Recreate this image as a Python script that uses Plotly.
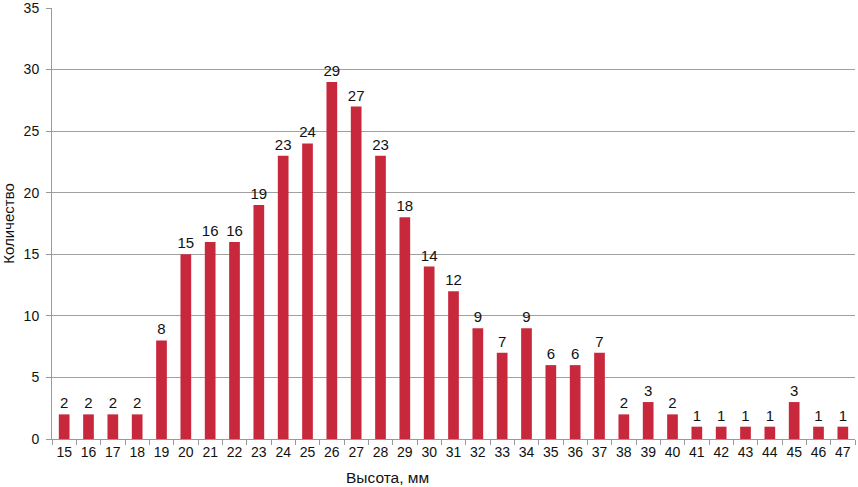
import plotly.graph_objects as go

heights = [str(h) for h in range(15, 48)]
counts = [2, 2, 2, 2, 8, 15, 16, 16, 19, 23, 24, 29, 27, 23, 18, 14, 12, 9, 7, 9, 6, 6, 7,
          2, 3, 2, 1, 1, 1, 1, 3, 1, 1]
y_ticks = [0, 5, 10, 15, 20, 25, 30, 35]

FONT = "Liberation Sans, Arial"

fig = go.Figure(go.Bar(
    x=heights, y=counts,
    marker=dict(color="#C8283C", line=dict(width=0)),
    text=[str(c) for c in counts], textposition="outside",
    constraintext="none",
    textfont=dict(family=FONT, size=15, color="#111"),
    cliponaxis=False,
))

fig.update_layout(
    width=858, height=487,
    margin=dict(l=52, r=3, t=8, b=48, autoexpand=False),
    paper_bgcolor="white", plot_bgcolor="white",
    bargap=0.56,
    showlegend=False,
    font=dict(family=FONT, size=14, color="#111"),
    xaxis=dict(
        type="category", automargin=False,
        showline=True, linecolor="#999", linewidth=1,
        ticks="outside", tickson="boundaries", ticklen=5, tickcolor="#999",
        tickangle=0, ticklabeloverflow="allow",
        showgrid=False,
        tickfont=dict(size=14),
    ),
    yaxis=dict(
        range=[0, 35], tickvals=y_ticks, automargin=False,
        title=dict(text="Количество", font=dict(size=15), standoff=14),
        showline=True, linecolor="#999", linewidth=1,
        ticks="outside", ticklen=5, tickcolor="#999",
        ticklabelstandoff=4, ticklabeloverflow="allow",
        showgrid=True, gridcolor="#a0a0a0", gridwidth=1,
        zeroline=False,
        tickfont=dict(size=14),
    ),
    annotations=[dict(
        text="Высота, мм", xref="paper", yref="paper",
        x=0.418, y=-0.09, xanchor="center", yanchor="middle",
        showarrow=False, font=dict(size=15.5, family=FONT, color="#111"),
    )],
)

fig.write_html("out.html", config={"displayModeBar": False},
               post_script="document.body.style.margin='0';document.body.style.overflow='hidden';")
